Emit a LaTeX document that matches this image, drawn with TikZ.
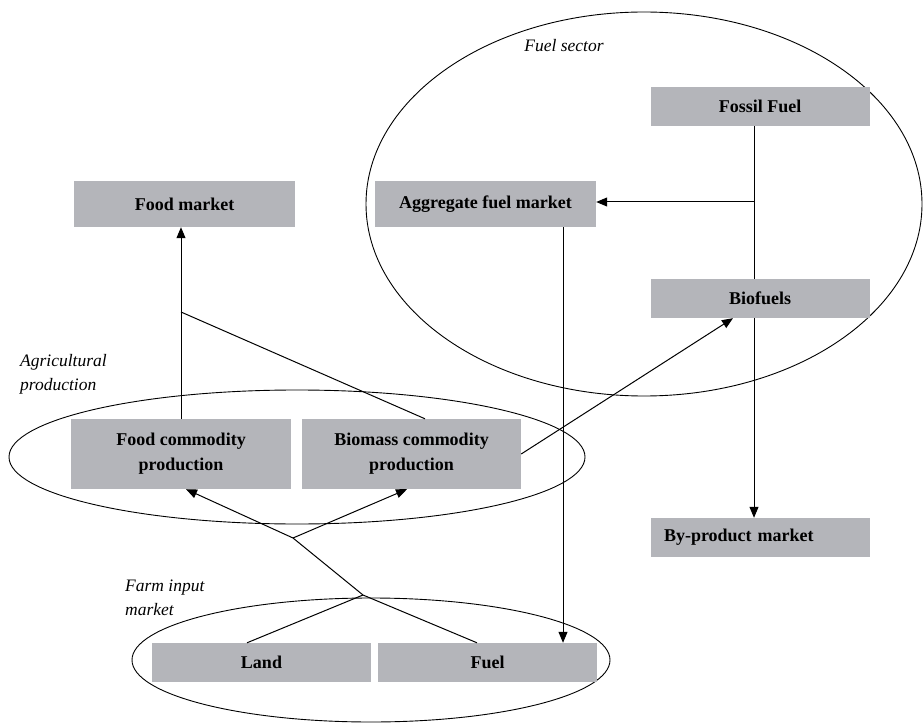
\documentclass[tikz,border=0pt]{standalone}
\usepackage{fontspec}
\setmainfont{Liberation Serif}
\usetikzlibrary{calc,arrows.meta}
\definecolor{boxgray}{RGB}{180,181,186}
\tikzset{
	box/.style={fill=boxgray, minimum width=219pt, minimum height=39pt, inner sep=0pt, font=\fontsize{18}{25}\selectfont\bfseries, align=center},
	tall/.style={minimum height=46pt},
	taller/.style={minimum height=70pt},
	sector/.style={font=\fontsize{17.5}{24}\selectfont\itshape, align=left, inner sep=0pt},
	link/.style={line width=1pt},
	arr/.style={link, -{Triangle[length=11pt,width=9pt]}}
}

\begin{document}
\begin{tikzpicture}[x=10pt,y=10pt]
		%%%%% START %%%%%
		\useasboundingbox (0,0) rectangle (92.3,72.4);
		
		\draw[line width=0.9pt] (64.4, 52.0) ellipse (27.8 and 19.2);
		\draw[line width=0.9pt] (29.7, 26.7) ellipse (28.8 and 6.7);
		\draw[line width=0.9pt] (37.1, 6.4) ellipse (23.9 and 6.2);
		
		\node[sector] (fs) at (56.4, 67.8) {Fuel sector};
		\node[sector, anchor=west] (ap) at (2.0, 35.0) {Agricultural\\production};
		\node[sector, anchor=west] (fi) at (12.5, 12.6) {Farm input\\market};
		
		\node[box, tall, minimum width=221pt] (fm) at (18.45, 52.0) {Food market};
		\node[box, tall, minimum width=221pt] (ag) at (48.55, 52.0) {Aggregate fuel market};
		\node[box] (ff) at (76.0, 61.75) {Fossil Fuel};
		\node[box] (bf) at (76.0, 42.55) {Biofuels};
		\node[box, text width=192pt, inner xsep=13.5pt, align=left] (bp) at (76.0, 18.65) {By-product market};
		\node[box, taller, minimum width=220pt] (fc) at (18.1, 27.0) {Food commodity\\production};
		\node[box, taller] (bc) at (41.15, 27.0) {Biomass commodity\\production};
		\node[box] (ld) at (26.15, 6.15) {Land};
		\node[box] (fu) at (48.75, 6.15) {Fuel};
		
		% agricultural production
		\draw[arr] (fc.north) -- (fc.north |- fm.south);
		\coordinate (fcj) at (18.1, 41.2);
		\coordinate (bct) at ($(bc.north)+(1.35,0)$);
		\draw[link] (fcj) -- (bct);
		\draw[arr] (bc.east) -- ($(bf.south)+(-2.7,0)$);
		
		% fuel sector
		\coordinate (fj) at (75.4, 52.2);
		\draw[link] ([xshift=-6pt]ff.south) -- ([xshift=-6pt]bf.north);
		\draw[arr] (fj) -- (fj -| ag.east);
		\draw[arr] ([xshift=-6pt]bf.south) -- ([xshift=-6pt]bp.north);
		\coordinate (af) at (56.3, 0);
		\draw[arr] (af |- ag.south) -- (af |- fu.north);
		
		% farm inputs
		\coordinate (j1) at (36.3, 12.9);
		\coordinate (j2) at (29.3, 18.6);
		\coordinate (fut) at (47.7, 0);
		\coordinate (ldt) at (24.7, 0);
		\coordinate (fcb) at (18.6, 0);
		\coordinate (bcb) at (40.7, 0);
		\draw[link] (fut |- fu.north) -- (j1) -- (j2);
		\draw[link] (ldt |- ld.north) -- (j1);
		\draw[arr] (j2) -- (fcb |- fc.south);
		\draw[arr] (j2) -- (bcb |- bc.south);
		%%%%% END %%%%%
	\end{tikzpicture}
\end{document}
